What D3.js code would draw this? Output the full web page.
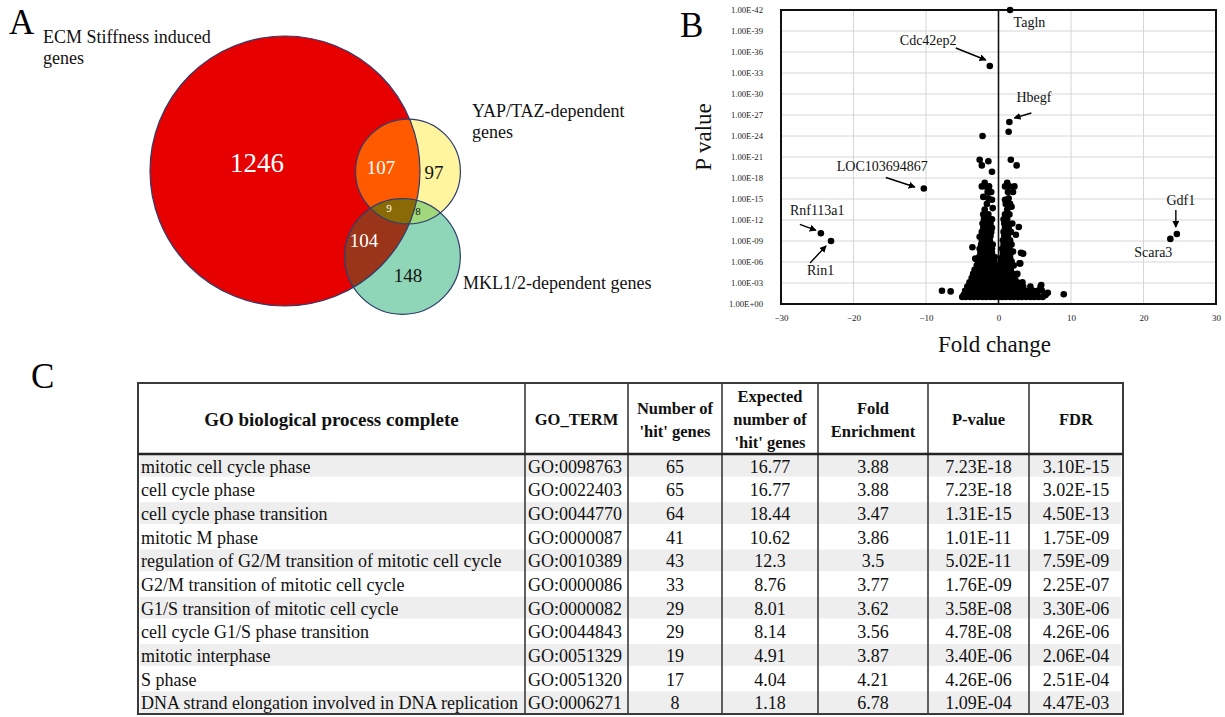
<!DOCTYPE html>
<html>
<head>
<meta charset="utf-8">
<script src="https://cdn.jsdelivr.net/npm/d3@7"></script>
<style>
  body { margin: 0; background: #fff; }
  svg { display: block; }
  text { font-family: "Liberation Serif", "Times New Roman", serif; }
</style>
</head>
<body>
<svg id="fig" width="1225" height="717"></svg>
<script>
// ---------------- Panel A: gene overlap counts ----------------
const vennSetNames = ["ECM", "YAP", "MKL"];
const regionKeys   = ["E", "Y", "M", "EY", "EM", "YM", "EYM"];
const regionCounts = [1246, 97, 148, 107, 104, 8, 9];

// ---------------- Panel B: volcano plot ----------------
const foldTicks = [-30, -20, -10, 0, 10, 20, 30];
const pTicks = [0, 3, 6, 9, 12, 15, 18, 21, 24, 27, 30, 33, 36, 39, 42]; // -log10(P)

// named genes: [name, fold change, -log10 P]
const namedGenes = [
  ["Tagln", 1.6, 42.0],
  ["Cdc42ep2", -1.2, 34.0],
  ["Hbegf", 1.5, 26.0],
  ["LOC103694867", -10.3, 16.5],
  ["Rnf113a1", -24.5, 10.1],
  ["Rin1", -23.1, 9.0],
  ["Gdf1", 24.6, 10.0],
  ["Scara3", 23.7, 9.3]
];

// scattered genes outside the main cloud: [fold, -log10 P]
const looseGenes = [
  [1.4, 24.6], [-2.2, 24.0], [-2.6, 20.6], [-1.4, 20.4], [-2.3, 19.8],
  [-0.9, 18.9], [1.7, 20.6], [2.5, 19.8], [-7.8, 1.9], [-6.6, 1.8],
  [9.0, 1.4], [-3.1, 6.4], [3.0, 5.8], [2.0, 7.5], [3.4, 7.2],
  [3.1, 7.3], [-2.6, 9.6], [2.8, 11.0], [-0.8, 13.7], [-0.9, 14.9],
  [-2.1, 15.3], [0.9, 14.9], [1.8, 13.9], [5.9, 2.7], [6.8, 1.6],
  [-3.2, 6.5], [2.9, 5.8], [-3.6, 8.1], [2.4, 9.9]
];

// main cloud, listed as rows: [-log10 P, fold values...]
const cloudRows = [
  [1.0, -5.0, -4.5, -3.9, -3.4, -2.8, -2.2, -1.7, -1.1, -0.6, 0.0, 0.5, 1.0, 1.6, 2.1, 2.7, 3.2, 3.8, 4.4, 4.9, 5.5, 6.1],
  [1.3, -4.8, -4.2, -3.6, -3.1, -2.5, -1.9, -1.4, -0.8, -0.3, 0.3, 0.8, 1.3, 1.9, 2.4, 3.0, 3.5, 4.1, 4.7, 5.3, 6.5],
  [1.9, -4.6, -4.0, -3.5, -2.9, -2.3, -1.8, -1.2, -0.7, -0.1, 0.4, 0.9, 1.5, 2.0, 2.6, 3.1, 3.7, 4.2, 4.8, 5.4, 6.0],
  [2.5, -4.3, -3.8, -3.2, -2.6, -2.1, -1.5, -1.0, -0.4, 0.2, 0.7, 1.2, 1.8, 2.3, 2.9, 3.4, 4.4, 5.8],
  [3.1, -4.0, -3.5, -2.9, -2.4, -1.8, -1.3, -0.7, -0.2, 0.4, 0.9, 1.4, 2.0, 2.6, 3.3],
  [3.7, -3.7, -3.2, -2.6, -2.1, -1.5, -1.0, -0.4, 0.1, 0.6, 1.1, 1.7, 2.3],
  [4.3, -3.5, -2.9, -2.4, -1.8, -1.3, -0.7, -0.2, 0.4, 0.9, 1.4, 2.0, 2.6],
  [4.9, -3.3, -2.7, -2.2, -1.6, -1.1, -0.5, 0.2, 0.7, 1.2, 1.7],
  [5.5, -3.0, -2.5, -1.9, -1.4, -0.8, -0.3, 0.5, 1.0, 1.5, 2.1],
  [6.1, -2.8, -2.3, -1.7, -1.2, -0.6, 0.3, 0.8, 1.3, 1.8],
  [6.7, -2.7, -2.1, -1.6, -1.0, -0.5, 0.5, 1.0, 1.6],
  [7.3, -2.5, -2.0, -1.4, -0.9, 0.6, 1.1, 1.7],
  [7.9, -2.6, -2.0, -1.5, -0.9, 0.5, 1.0, 1.5],
  [8.5, -2.4, -1.8, -1.3, -0.8, 0.7, 1.2, 1.8],
  [9.1, -2.3, -1.8, -1.2, 0.6, 1.1, 1.6],
  [9.7, -2.2, -1.7, -1.1, 0.8, 1.3],
  [10.3, -2.3, -1.6, -1.0, 0.7, 1.2, 1.7],
  [10.9, -2.1, -1.5, -0.9, 0.9, 1.4],
  [11.5, -2.2, -1.7, -1.1, 0.8, 1.3, 1.9],
  [12.1, -2.0, -1.4, -0.9, 0.7, 1.2],
  [12.8, -2.1, -1.4, 0.9, 1.5],
  [13.5, -1.9, 1.2],
  [14.3, -1.6, 1.0, 1.6],
  [15.1, -1.4, 1.4],
  [16.0, -1.5, -1.0, 1.3, 2.0],
  [16.8, -2.3, -1.8, -1.3, 0.9, 1.5, 2.2],
  [17.3, -1.9, 1.2]
];

// ---------------- Panel C: GO enrichment table ----------------
const goProcess = [
  "mitotic cell cycle phase", "cell cycle phase", "cell cycle phase transition",
  "mitotic M phase", "regulation of G2/M transition of mitotic cell cycle",
  "G2/M transition of mitotic cell cycle", "G1/S transition of mitotic cell cycle",
  "cell cycle G1/S phase transition", "mitotic interphase", "S phase",
  "DNA strand elongation involved in DNA replication"
];
const goTerm = ["GO:0098763", "GO:0022403", "GO:0044770", "GO:0000087", "GO:0010389",
  "GO:0000086", "GO:0000082", "GO:0044843", "GO:0051329", "GO:0051320", "GO:0006271"];
const hitGenes = ["65", "65", "64", "41", "43", "33", "29", "29", "19", "17", "8"];
const expectedHits = ["16.77", "16.77", "18.44", "10.62", "12.3", "8.76", "8.01", "8.14", "4.91", "4.04", "1.18"];
const foldEnrichment = ["3.88", "3.88", "3.47", "3.86", "3.5", "3.77", "3.62", "3.56", "3.87", "4.21", "6.78"];
const pValue = ["7.23E-18", "7.23E-18", "1.31E-15", "1.01E-11", "5.02E-11", "1.76E-09",
  "3.58E-08", "4.78E-08", "3.40E-06", "4.26E-06", "1.09E-04"];
const fdr = ["3.10E-15", "3.02E-15", "4.50E-13", "1.75E-09", "7.59E-09", "2.25E-07",
  "3.30E-06", "4.26E-06", "2.06E-04", "2.51E-04", "4.47E-03"];
const tableHeaders = [
  ["GO biological process complete"], ["GO_TERM"], ["Number of", "'hit' genes"],
  ["Expected", "number of", "'hit' genes"], ["Fold", "Enrichment"], ["P-value"], ["FDR"]
];

const svg = d3.select("#fig");
const defs = svg.append("defs");

// ============ Panel letters ============
svg.append("text").attr("x", 9).attr("y", 34).attr("font-size", 35).text("A");
svg.append("text").attr("x", 680).attr("y", 37).attr("font-size", 35).text("B");
svg.append("text").attr("x", 31).attr("y", 388).attr("font-size", 35).text("C");

// ============ Panel A: Venn diagram ============
(function drawVenn() {
  const count = k => regionCounts[regionKeys.indexOf(k)];
  const setTotal = letter => d3.sum(regionKeys.filter(k => k.includes(letter)), count);
  const totals = { E: setTotal("E"), Y: setTotal("Y"), M: setTotal("M") };
  // circle areas proportional to set sizes
  const r = d3.scaleSqrt().domain([0, d3.max(Object.values(totals))]).range([0, 135]);

  const centre = { E: [285, 171], Y: [408, 171.5], M: [402.5, 256.5] };
  const fill = {
    E: "#e60000", Y: "#fff59e", M: "#8fd5b8",
    EY: "#ff5a00", EM: "#9b3519", YM: "#a2d87c", EYM: "#8a6a04"
  };
  const g = svg.append("g");
  ["E", "Y", "M"].forEach(s => {
    defs.append("clipPath").attr("id", "clip" + s)
      .append("circle").attr("cx", centre[s][0]).attr("cy", centre[s][1]).attr("r", r(totals[s]));
  });
  const circ = (parent, s, f) => parent.append("circle")
    .attr("cx", centre[s][0]).attr("cy", centre[s][1]).attr("r", r(totals[s])).attr("fill", f);

  circ(g, "E", fill.E);
  circ(g, "Y", fill.Y);
  circ(g, "M", fill.M);
  circ(g.append("g").attr("clip-path", "url(#clipE)"), "Y", fill.EY);
  circ(g.append("g").attr("clip-path", "url(#clipE)"), "M", fill.EM);
  circ(g.append("g").attr("clip-path", "url(#clipY)"), "M", fill.YM);
  circ(g.append("g").attr("clip-path", "url(#clipE)").append("g").attr("clip-path", "url(#clipY)"), "M", fill.EYM);
  ["E", "Y", "M"].forEach(s => circ(g, s, "none").attr("stroke", "#2c3d6e").attr("stroke-width", 1.2));

  const labelPos = {
    E: [257, 163, 27, "#fff"], EY: [381, 167, 19, "#fff"], Y: [434, 172, 19, "#111"],
    EYM: [389, 208, 11, "#fff"], YM: [418, 211, 11, "#111"], EM: [364, 240, 19, "#fff"],
    M: [408, 275, 19, "#111"]
  };
  regionKeys.forEach(k => {
    const [lx, ly, fs, col] = labelPos[k];
    g.append("text").attr("x", lx).attr("y", ly).attr("font-size", fs).attr("fill", col)
      .attr("text-anchor", "middle").attr("dominant-baseline", "central").text(count(k));
  });

  const setTitle = (x, y, lines) => {
    const t = g.append("text").attr("x", x).attr("y", y).attr("font-size", 18).attr("fill", "#111");
    lines.forEach((l, i) => t.append("tspan").attr("x", x).attr("dy", i ? 21 : 0).text(l));
  };
  setTitle(43, 43, ["ECM Stiffness induced", "genes"]);
  setTitle(472, 117, ["YAP/TAZ-dependent", "genes"]);
  setTitle(463, 289, ["MKL1/2-dependent genes"]);
})();

// ============ Panel B: volcano plot ============
(function drawVolcano() {
  const x = d3.scaleLinear().domain([-30, 30]).range([781, 1216]);
  const y = d3.scaleLinear().domain([0, 42]).range([304, 10]);
  const g = svg.append("g");

  // grid
  g.append("g").selectAll("line").data(pTicks.slice(1, -1)).join("line")
    .attr("x1", x(-30)).attr("x2", x(30)).attr("y1", d => y(d)).attr("y2", d => y(d))
    .attr("stroke", "#d6d6d6").attr("stroke-width", 1);
  g.append("g").selectAll("line").data(foldTicks.filter(d => d !== 0 && Math.abs(d) !== 30)).join("line")
    .attr("x1", d => x(d)).attr("x2", d => x(d)).attr("y1", y(0)).attr("y2", y(42))
    .attr("stroke", "#d6d6d6").attr("stroke-width", 1);

  // tick labels
  const yAxis = d3.axisLeft(y).tickValues(pTicks).tickSize(0).tickPadding(18)
    .tickFormat(v => v === 0 ? "1.00E+00" : "1.00E-" + String(v).padStart(2, "0"));
  const ya = g.append("g").attr("transform", `translate(${x(-30)},0)`).call(yAxis);
  ya.select(".domain").remove();
  ya.selectAll("text").attr("font-family", "Liberation Serif").attr("font-size", 8.7).attr("fill", "#222");

  const xAxis = d3.axisBottom(x).tickValues(foldTicks).tickSize(0).tickPadding(11);
  const xa = g.append("g").attr("transform", `translate(0,${y(0)})`).call(xAxis);
  xa.select(".domain").remove();
  xa.selectAll("text").attr("font-family", "Liberation Serif").attr("font-size", 9).attr("fill", "#222");

  // frame and zero line
  g.append("rect").attr("x", x(-30)).attr("y", y(42)).attr("width", x(30) - x(-30)).attr("height", y(0) - y(42))
    .attr("fill", "none").attr("stroke", "#111").attr("stroke-width", 2);
  g.append("line").attr("x1", x(0)).attr("x2", x(0)).attr("y1", y(42)).attr("y2", y(0))
    .attr("stroke", "#111").attr("stroke-width", 1.6);

  // points
  const cloud = cloudRows.flatMap(row => row.slice(1).map(f => [f, row[0]]));
  const all = cloud.concat(looseGenes, namedGenes.map(d => [d[1], d[2]]));
  g.append("g").selectAll("circle").data(all).join("circle")
    .attr("cx", d => x(d[0])).attr("cy", d => y(d[1])).attr("r", 3.3).attr("fill", "#000");

  // gene labels with arrows
  defs.append("marker").attr("id", "arrowHead")
    .attr("viewBox", "0 0 8 8").attr("refX", 7).attr("refY", 4)
    .attr("markerWidth", 7).attr("markerHeight", 7).attr("markerUnits", "userSpaceOnUse")
    .attr("orient", "auto")
    .append("path").attr("d", "M0,0 L8,4 L0,8 Z").attr("fill", "#000");

  const labelLayout = {
    Tagln:        { dx: 3.5, dy: 17,  anchor: "start" },
    Cdc42ep2:     { dx: -90, dy: -21, anchor: "start",  arrow: [-34, -18, -4, -6] },
    Hbegf:        { dx: 7,   dy: -20, anchor: "start",  arrow: [22, -9, 5, -4] },
    LOC103694867: { dx: -87, dy: -18, anchor: "start",  arrow: [-38, -11, -9, -1.5] },
    Rnf113a1:     { dx: -31, dy: -18, anchor: "start",  arrow: [-21, -9, -5, -3] },
    Rin1:         { dx: -24, dy: 34,  anchor: "start",  arrow: [-21, 22, -5, 5] },
    Gdf1:         { dx: 4,   dy: -29, anchor: "middle", arrow: [-1, -24, -1, -7] },
    Scara3:       { dx: -17, dy: 18,  anchor: "middle" }
  };
  namedGenes.forEach(([name, f, p]) => {
    const L = labelLayout[name], px = x(f), py = y(p);
    g.append("text").attr("x", px + L.dx).attr("y", py + L.dy).attr("text-anchor", L.anchor)
      .attr("font-size", 14).attr("fill", "#111").text(name);
    if (L.arrow) {
      g.append("line").attr("x1", px + L.arrow[0]).attr("y1", py + L.arrow[1])
        .attr("x2", px + L.arrow[2]).attr("y2", py + L.arrow[3])
        .attr("stroke", "#000").attr("stroke-width", 1.4).attr("marker-end", "url(#arrowHead)");
    }
  });

  // axis titles
  g.append("text").attr("transform", "translate(711,137) rotate(-90)").attr("text-anchor", "middle")
    .attr("font-size", 23).attr("fill", "#111").text("P value");
  g.append("text").attr("x", (x(-30) + x(30)) / 2 - 4).attr("y", 352).attr("text-anchor", "middle")
    .attr("font-size", 23).attr("fill", "#111").text("Fold change");
})();

// ============ Panel C: table ============
(function drawTable() {
  const colEdges = [138, 525, 628, 722, 818, 928, 1029, 1123];
  const top = 383, headBottom = 454, bottom = 714;
  const rows = d3.scaleBand().domain(d3.range(goProcess.length)).range([headBottom, bottom]);
  const columns = [goProcess, goTerm, hitGenes, expectedHits, foldEnrichment, pValue, fdr];
  const g = svg.append("g");

  // alternating row shading
  g.append("g").selectAll("rect").data(d3.range(goProcess.length).filter(i => i % 2 === 0)).join("rect")
    .attr("x", colEdges[0] + 2).attr("y", i => rows(i) + 1)
    .attr("width", colEdges[colEdges.length - 1] - colEdges[0] - 4).attr("height", rows.bandwidth() - 2)
    .attr("fill", "#eeeeee");

  // header
  tableHeaders.forEach((lines, c) => {
    const cx = (colEdges[c] + colEdges[c + 1]) / 2;
    const mid = (top + headBottom) / 2 + 1;
    const lh = 23;
    lines.forEach((l, i) => {
      g.append("text").attr("x", cx).attr("y", mid + (i - (lines.length - 1) / 2) * lh)
        .attr("text-anchor", "middle").attr("dominant-baseline", "central")
        .attr("font-weight", "bold").attr("font-size", c === 0 ? 19 : 16.5).attr("fill", "#111").text(l);
    });
  });

  // body
  columns.forEach((vals, c) => {
    const left = c < 2;
    const tx = left ? colEdges[c] + 3 : (colEdges[c] + colEdges[c + 1]) / 2;
    g.append("g").selectAll("text").data(vals).join("text")
      .attr("x", tx).attr("y", (d, i) => rows(i) + rows.bandwidth() / 2 + 1)
      .attr("text-anchor", left ? "start" : "middle").attr("dominant-baseline", "central")
      .attr("font-size", 18).attr("fill", "#111").text(d => d);
  });

  // rules
  const lineCol = "#3a3a3a";
  g.append("rect").attr("x", colEdges[0]).attr("y", top)
    .attr("width", colEdges[colEdges.length - 1] - colEdges[0]).attr("height", bottom - top)
    .attr("fill", "none").attr("stroke", lineCol).attr("stroke-width", 2);
  g.append("g").selectAll("line").data(colEdges.slice(1, -1)).join("line")
    .attr("x1", d => d).attr("x2", d => d).attr("y1", top).attr("y2", bottom)
    .attr("stroke", lineCol).attr("stroke-width", 1.6);
  g.append("line").attr("x1", colEdges[0]).attr("x2", colEdges[colEdges.length - 1])
    .attr("y1", headBottom).attr("y2", headBottom).attr("stroke", "#222").attr("stroke-width", 2.6);
})();
</script>
</body>
</html>
